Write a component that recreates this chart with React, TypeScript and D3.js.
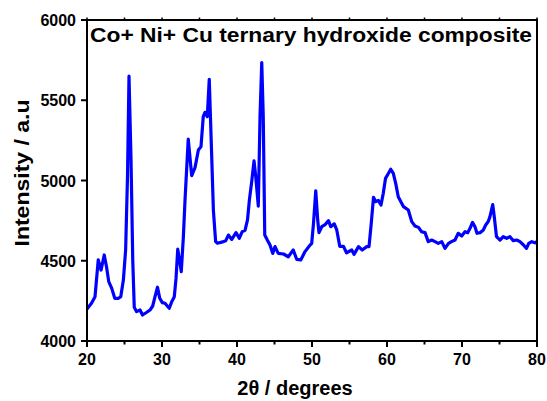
import React from "react";
import * as d3 from "d3";

// XRD pattern of the Co/Ni/Cu ternary hydroxide composite
const twoTheta: number[] = [
  20.0, 20.6, 21.07, 21.5, 21.87, 22.3, 22.6, 22.9, 23.3, 23.7, 24.2, 24.5, 24.85,
  25.15, 25.4, 25.6, 25.87, 26.1, 26.3, 26.6, 27.07, 27.4, 27.87, 28.4, 28.76, 29.07,
  29.4, 29.7, 30.04, 30.4, 30.7, 30.97, 31.3, 31.64, 31.87, 32.1, 32.4, 32.57, 32.85,
  33.07, 33.5, 33.96, 34.4, 34.85, 35.2, 35.5, 35.73, 36.04, 36.3, 36.6, 36.85, 37.15,
  37.4, 38.2, 38.5, 38.85, 39.3, 39.87, 40.3, 40.7, 41.07, 41.4, 41.65, 41.96, 42.27,
  42.5, 42.84, 43.07, 43.3, 43.5, 43.7, 44.04, 44.4, 44.76, 45.07, 45.5, 46.2, 46.84,
  47.5, 47.96, 48.5, 49.07, 49.64, 49.96, 50.2, 50.5, 50.76, 50.93, 51.3, 51.7, 52.2,
  52.5, 52.97, 53.3, 53.7, 54.2, 54.6, 55.3, 55.6, 56.2, 56.7, 57.3, 57.6, 57.9, 58.2,
  58.5, 58.84, 59.2, 59.5, 59.8, 60.2, 60.5, 60.84, 61.16, 61.5, 62.2, 62.84, 63.3,
  63.73, 64.2, 64.6, 65.07, 65.5, 65.96, 66.4, 66.84, 67.3, 67.73, 68.2, 68.6, 69.07,
  69.5, 69.96, 70.4, 70.76, 71.07, 71.4, 71.73, 72.0, 72.4, 72.84, 73.16, 73.5, 73.73,
  74.1, 74.3, 74.6, 75.07, 75.5, 75.96, 76.4, 76.84, 77.3, 77.73, 78.2, 78.6, 78.9,
  79.3, 79.73, 80.0,
];

const intensity: number[] = [
  4200, 4235, 4276, 4505, 4442, 4536, 4463, 4370, 4328, 4266, 4266, 4276, 4380,
  4567, 5024, 5650, 5128, 4505, 4210, 4183, 4193, 4162, 4176, 4193, 4218, 4276,
  4335, 4266, 4239, 4235, 4218, 4204, 4245, 4276, 4390, 4572, 4484, 4432, 4650,
  4878, 5258, 5030, 5080, 5190, 5211, 5398, 5425, 5398, 5630, 5190, 4816, 4619,
  4609, 4619, 4625, 4660, 4633, 4675, 4640, 4681, 4690, 4754, 4878, 4993, 5122,
  5024, 4840, 5398, 5735, 5398, 4660, 4629, 4598, 4546, 4588, 4546, 4542, 4525,
  4567, 4509, 4505, 4557, 4592, 4608, 4733, 4935, 4754, 4675, 4712, 4723, 4750,
  4712, 4730, 4692, 4590, 4590, 4550, 4567, 4540, 4588, 4567, 4588, 4588, 4733, 4895,
  4868, 4876, 4847, 4920, 5013, 5045, 5070, 5045, 4982, 4899, 4837, 4816, 4744,
  4717, 4708, 4681, 4675, 4619, 4629, 4619, 4608, 4619, 4577, 4608, 4619, 4629,
  4671, 4654, 4681, 4675, 4702, 4739, 4712, 4671, 4675, 4692, 4723, 4744, 4775,
  4850, 4775, 4650, 4629, 4650, 4640, 4650, 4625, 4629, 4619, 4598, 4577, 4608,
  4619, 4612, 4620,
];

const xTicks: number[] = [20, 30, 40, 50, 60, 70, 80];
const xMinorTicks: number[] = [25, 35, 45, 55, 65, 75];
const yTicks: number[] = [4000, 4500, 5000, 5500, 6000];

const titleText = "Co+ Ni+ Cu ternary hydroxide composite";
const xLabel = "2\u03b8 / degrees";
const yLabel = "Intensity / a.u";

const W = 547;
const H = 401;
const plot = { left: 87, right: 537, top: 20, bottom: 341 };
const FONT = "'Liberation Sans', Arial, Helvetica, sans-serif";

export default function App() {
  const x = d3.scaleLinear().domain([20, 80]).range([plot.left, plot.right]);
  const y = d3.scaleLinear().domain([4000, 6000]).range([plot.bottom, plot.top]);

  const points: [number, number][] = twoTheta.map((t, i) => [t, intensity[i]]);
  const line = d3
    .line<[number, number]>()
    .x((d) => x(d[0]))
    .y((d) => y(d[1]))
    .curve(d3.curveLinear);

  return (
    <svg
      width={W}
      height={H}
      style={{ position: "absolute", left: 0, top: 0, background: "#fff" }}
      fontFamily={FONT}
    >
      <rect x={0} y={0} width={W} height={H} fill="#fff" />

      <clipPath id="plot-clip">
        <rect
          x={plot.left}
          y={plot.top}
          width={plot.right - plot.left}
          height={plot.bottom - plot.top}
        />
      </clipPath>

      {/* data curve */}
      <path
        d={line(points) ?? ""}
        fill="none"
        stroke="#0000ff"
        strokeWidth={3.2}
        strokeLinejoin="round"
        strokeLinecap="round"
        clipPath="url(#plot-clip)"
      />

      {/* frame */}
      <rect
        x={plot.left}
        y={plot.top}
        width={plot.right - plot.left}
        height={plot.bottom - plot.top}
        fill="none"
        stroke="#000"
        strokeWidth={2}
      />

      {/* bottom axis ticks */}
      {xTicks.map((t) => (
        <line key={"xb" + t} x1={x(t)} x2={x(t)} y1={plot.bottom} y2={plot.bottom + 6} stroke="#000" strokeWidth={2} />
      ))}
      {xMinorTicks.map((t) => (
        <line key={"xm" + t} x1={x(t)} x2={x(t)} y1={plot.bottom} y2={plot.bottom + 3.5} stroke="#000" strokeWidth={2} />
      ))}
      {/* top axis ticks */}
      {[...xTicks, ...xMinorTicks].map((t) => (
        <line key={"xt" + t} x1={x(t)} x2={x(t)} y1={plot.top} y2={plot.top - 2.5} stroke="#000" strokeWidth={1.5} />
      ))}
      {/* left axis ticks */}
      {yTicks.map((t) => (
        <line key={"yl" + t} x1={plot.left - 6} x2={plot.left} y1={y(t)} y2={y(t)} stroke="#000" strokeWidth={2} />
      ))}

      {/* tick labels */}
      {xTicks.map((t) => (
        <text key={"xl" + t} x={x(t)} y={365} textAnchor="middle" fontSize={16} fontWeight="bold" fill="#000">
          {t}
        </text>
      ))}
      {yTicks.map((t) => (
        <text key={"ylb" + t} x={76} y={y(t) + 6} textAnchor="end" fontSize={16} fontWeight="bold" fill="#000">
          {t}
        </text>
      ))}

      {/* axis titles */}
      <text x={295} y={395} textAnchor="middle" fontSize={20} fontWeight="bold" fill="#000">
        {xLabel}
      </text>
      <text
        transform={`translate(29, 173) rotate(-90)`}
        textAnchor="middle"
        fontSize={20}
        fontWeight="bold"
        fill="#000"
        textLength={147}
        lengthAdjust="spacingAndGlyphs"
      >
        {yLabel}
      </text>

      {/* chart title */}
      <text
        x={90}
        y={41.5}
        fontSize={19.5}
        fontWeight="bold"
        fill="#000"
        textLength={442}
        lengthAdjust="spacingAndGlyphs"
      >
        {titleText}
      </text>
    </svg>
  );
}
